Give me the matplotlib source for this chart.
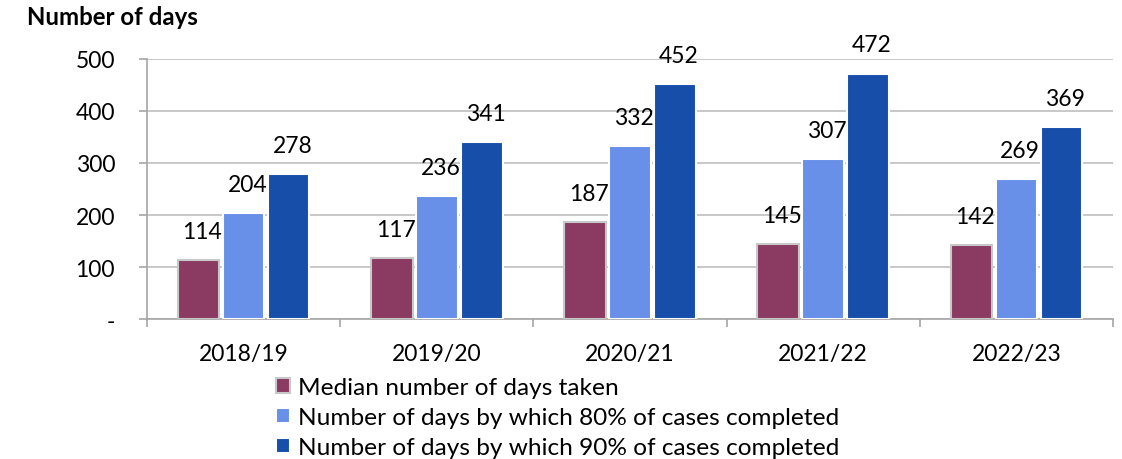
import matplotlib
matplotlib.use("Agg")
import matplotlib.pyplot as plt
import numpy as np
from matplotlib.ticker import FixedLocator, FuncFormatter

plt.rcParams['font.family'] = ['Lato', 'DejaVu Sans']

years = ["2018/19", "2019/20", "2020/21", "2021/22", "2022/23"]
median_days = [114, 117, 187, 145, 142]
days_80 = [204, 236, 332, 307, 269]
days_90 = [278, 341, 452, 472, 369]
series_names = ["Median number of days taken",
                "Number of days by which 80% of cases completed",
                "Number of days by which 90% of cases completed"]
colors = ["#8B3A62", "#6890E8", "#174EAA"]
edges = ["#C8C8C8", "white", "white"]

FS = 16.5

fig = plt.figure(figsize=(11.22, 4.6), dpi=100)
ax = fig.add_axes([0.131, 0.3043, 0.861, 0.5653])

x = np.arange(len(years))
w = 0.215
offs = [-0.233, 0.0, 0.233]
handles = []
for vals, off, c, ec, name in zip([median_days, days_80, days_90], offs, colors, edges, series_names):
    b = ax.bar(x + off, vals, w, color=c, edgecolor=ec, linewidth=1.5, label=name, zorder=3)
    handles.append(b)
    for xi, v in zip(x + off, vals):
        ax.annotate(str(v), xy=(xi + 0.02, v), xytext=(0, 13), textcoords='offset points',
                    ha='center', va='bottom', fontsize=FS, color='black')

ax.set_ylim(0, 500)
ax.set_xlim(-0.5, len(years) - 0.5)
ax.set_yticks([0, 100, 200, 300, 400, 500])
ax.yaxis.set_major_formatter(FuncFormatter(lambda v, p: "-" if v == 0 else f"{int(v)}"))
ax.set_xticks(x)
ax.set_xticklabels(years)
ax.xaxis.set_minor_locator(FixedLocator(np.arange(-0.5, len(years), 1.0)))
ax.tick_params(axis='x', which='major', length=0, labelsize=FS, pad=17)
ax.tick_params(axis='x', which='minor', length=6, color='#A6A6A6', width=1.2)
ax.tick_params(axis='y', length=6, color='#A6A6A6', width=1.2, labelsize=FS, pad=17)
ax.grid(axis='y', color='#BFBFBF', linewidth=1.2, zorder=0)
for s in ['top', 'right']:
    ax.spines[s].set_visible(False)
for s in ['left', 'bottom']:
    ax.spines[s].set_color('#A6A6A6')
    ax.spines[s].set_linewidth(1.2)

fig.text(0.024, 0.961, "Number of days", fontsize=17.3, fontweight='bold', ha='left', va='center')

fig.legend(handles=handles, labels=series_names, loc='upper left',
           bbox_to_anchor=(0.246, 0.178), frameon=False, fontsize=17.6,
           handlelength=0.56, handleheight=0.56, handletextpad=0.33,
           labelspacing=0.36, borderaxespad=0, borderpad=0)

fig.savefig("out.png", dpi=100)
